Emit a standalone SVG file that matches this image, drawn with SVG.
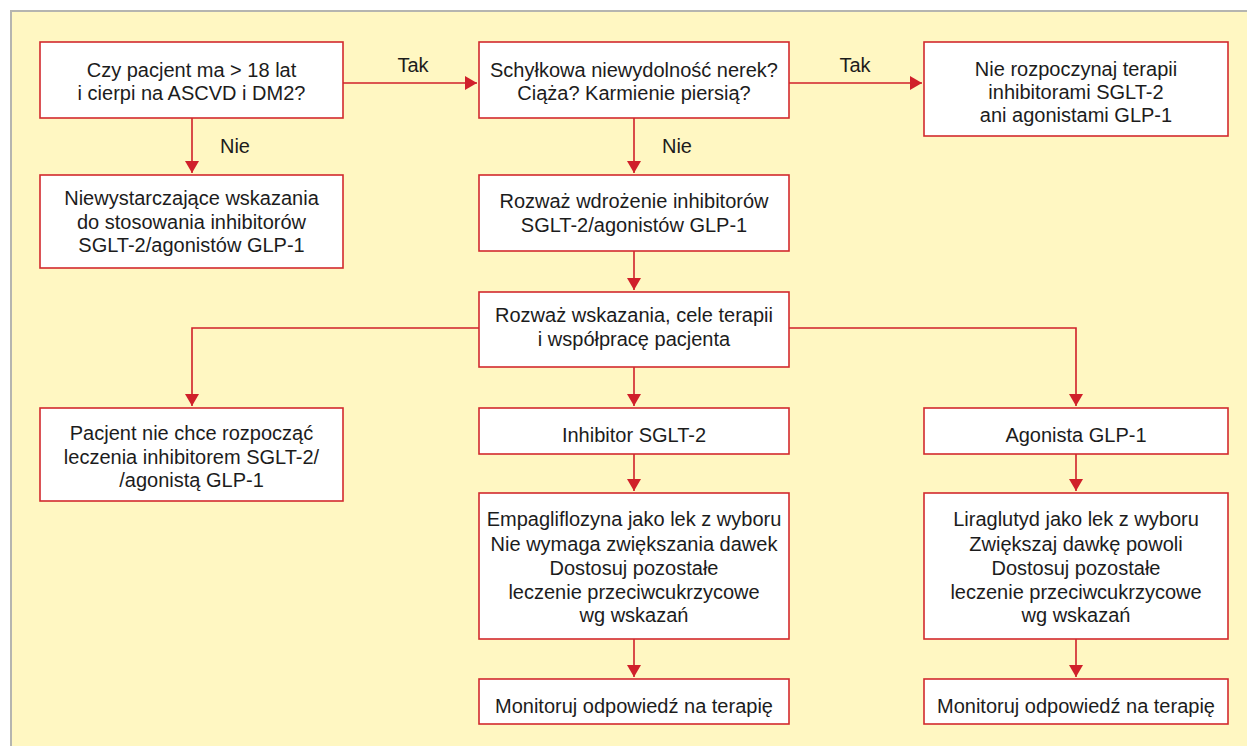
<svg xmlns="http://www.w3.org/2000/svg" width="1247" height="746" viewBox="0 0 1247 746">
<style>
  .bg { fill: #fff7c2; stroke: none; }
  .frame { fill: none; stroke: #b5b5b0; stroke-width: 2; }
  .box { fill: #ffffff; stroke: #d22a2e; stroke-width: 1.6; }
  .t { font-family: "Liberation Sans", Arial, sans-serif; font-size: 20px; fill: #1c1c1c; text-anchor: middle; }
  .c { fill: none; stroke: #d0202a; stroke-width: 1.6; }
</style>
<defs>
  <marker id="ah" viewBox="0 0 12 14" refX="12" refY="7" markerWidth="12" markerHeight="14" markerUnits="userSpaceOnUse" orient="auto">
    <path d="M0,0 L12,7 L0,14 z" fill="#d0202a"/>
  </marker>
</defs>
<rect class="bg" x="10" y="10" width="1237" height="736"/>
<path class="frame" d="M11,746 V11 H1247"/>

<g id="connectors">
  <line class="c" x1="343" y1="83" x2="477" y2="83" marker-end="url(#ah)"/>
  <text class="t" x="413" y="72">Tak</text>
  <line class="c" x1="192" y1="118" x2="192" y2="173" marker-end="url(#ah)"/>
  <text class="t" x="235" y="153">Nie</text>
  <line class="c" x1="789" y1="83" x2="922" y2="83" marker-end="url(#ah)"/>
  <text class="t" x="855" y="72">Tak</text>
  <line class="c" x1="634" y1="118" x2="634" y2="173" marker-end="url(#ah)"/>
  <text class="t" x="677" y="153">Nie</text>
  <line class="c" x1="634" y1="251" x2="634" y2="290" marker-end="url(#ah)"/>
  <polyline class="c" points="479,328 192,328 192,406" marker-end="url(#ah)"/>
  <line class="c" x1="634" y1="367" x2="634" y2="406" marker-end="url(#ah)"/>
  <polyline class="c" points="789,328 1076,328 1076,406" marker-end="url(#ah)"/>
  <line class="c" x1="634" y1="454" x2="634" y2="491" marker-end="url(#ah)"/>
  <line class="c" x1="1076" y1="454" x2="1076" y2="491" marker-end="url(#ah)"/>
  <line class="c" x1="634" y1="639" x2="634" y2="677" marker-end="url(#ah)"/>
  <line class="c" x1="1076" y1="639" x2="1076" y2="677" marker-end="url(#ah)"/>
</g>

<g id="n1">
  <rect class="box" x="40" y="42" width="303" height="76"/>
  <text class="t" x="191.5" y="77">Czy pacjent ma &gt; 18 lat</text>
  <text class="t" x="191.5" y="100">i cierpi na ASCVD i DM2?</text>
</g>
<g id="n2">
  <rect class="box" x="40" y="175" width="303" height="93"/>
  <text class="t" x="191.5" y="205">Niewystarczające wskazania</text>
  <text class="t" x="191.5" y="229">do stosowania inhibitorów</text>
  <text class="t" x="191.5" y="252">SGLT-2/agonistów GLP-1</text>
</g>
<g id="n3">
  <rect class="box" x="479" y="42" width="310" height="76"/>
  <text class="t" x="634" y="77">Schyłkowa niewydolność nerek?</text>
  <text class="t" x="634" y="100">Ciąża? Karmienie piersią?</text>
</g>
<g id="n4">
  <rect class="box" x="924" y="42" width="304" height="94"/>
  <text class="t" x="1076" y="76">Nie rozpoczynaj terapii</text>
  <text class="t" x="1076" y="99">inhibitorami SGLT-2</text>
  <text class="t" x="1076" y="122">ani agonistami GLP-1</text>
</g>
<g id="n5">
  <rect class="box" x="479" y="175" width="310" height="76"/>
  <text class="t" x="634" y="208">Rozważ wdrożenie inhibitorów</text>
  <text class="t" x="634" y="232">SGLT-2/agonistów GLP-1</text>
</g>
<g id="n6">
  <rect class="box" x="479" y="292" width="310" height="75"/>
  <text class="t" x="634" y="322">Rozważ wskazania, cele terapii</text>
  <text class="t" x="634" y="346">i współpracę pacjenta</text>
</g>
<g id="n7">
  <rect class="box" x="40" y="408" width="303" height="93"/>
  <text class="t" x="191.5" y="440">Pacjent nie chce rozpocząć</text>
  <text class="t" x="191.5" y="464">leczenia inhibitorem SGLT-2/</text>
  <text class="t" x="191.5" y="487">/agonistą GLP-1</text>
</g>
<g id="n8">
  <rect class="box" x="479" y="408" width="310" height="46"/>
  <text class="t" x="634" y="442">Inhibitor SGLT-2</text>
</g>
<g id="n9">
  <rect class="box" x="924" y="408" width="304" height="46"/>
  <text class="t" x="1076" y="442">Agonista GLP-1</text>
</g>
<g id="n10">
  <rect class="box" x="479" y="493" width="310" height="146"/>
  <text class="t" x="634" y="526">Empagliflozyna jako lek z wyboru</text>
  <text class="t" x="634" y="551">Nie wymaga zwiększania dawek</text>
  <text class="t" x="634" y="575">Dostosuj pozostałe</text>
  <text class="t" x="634" y="599">leczenie przeciwcukrzycowe</text>
  <text class="t" x="634" y="622">wg wskazań</text>
</g>
<g id="n11">
  <rect class="box" x="924" y="493" width="304" height="146"/>
  <text class="t" x="1076" y="526">Liraglutyd jako lek z wyboru</text>
  <text class="t" x="1076" y="551">Zwiększaj dawkę powoli</text>
  <text class="t" x="1076" y="575">Dostosuj pozostałe</text>
  <text class="t" x="1076" y="599">leczenie przeciwcukrzycowe</text>
  <text class="t" x="1076" y="622">wg wskazań</text>
</g>
<g id="n12">
  <rect class="box" x="479" y="679" width="310" height="45"/>
  <text class="t" x="634" y="713">Monitoruj odpowiedź na terapię</text>
</g>
<g id="n13">
  <rect class="box" x="924" y="679" width="304" height="45"/>
  <text class="t" x="1076" y="713">Monitoruj odpowiedź na terapię</text>
</g>
</svg>
